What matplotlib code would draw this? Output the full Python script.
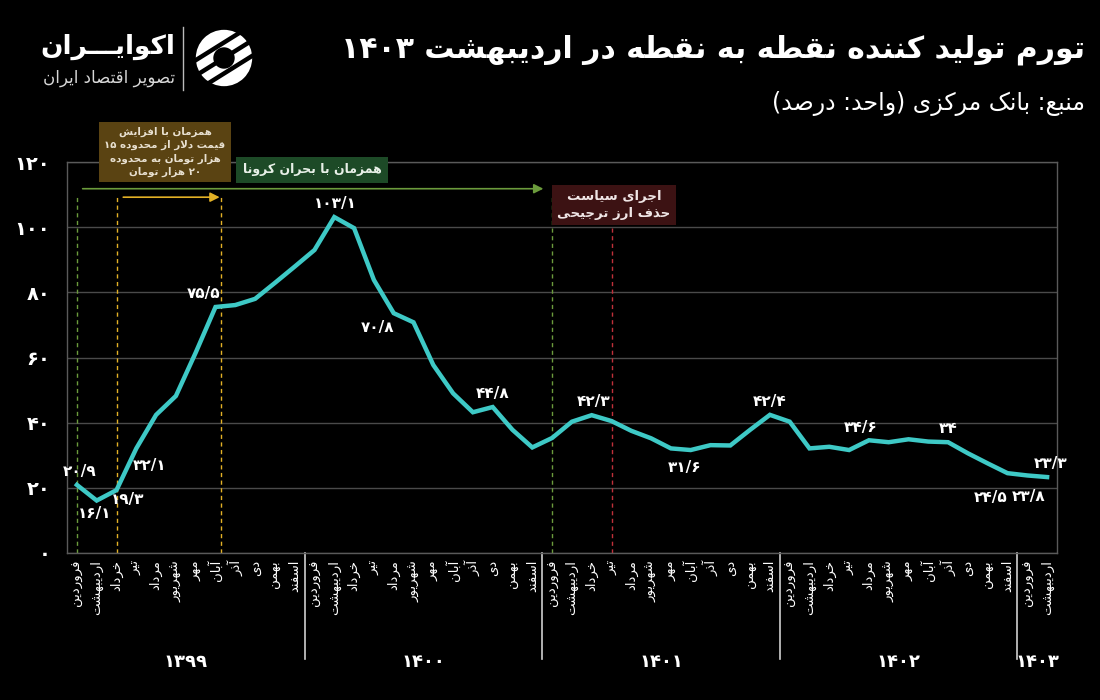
import re
import matplotlib
matplotlib.use("Agg")
import matplotlib.pyplot as plt
import matplotlib.transforms as mtransforms
from matplotlib.patches import Circle

# ---- data ----
months = ["فروردین", "اردیبهشت", "خرداد", "تیر", "مرداد", "شهریور",
          "مهر", "آبان", "آذر", "دی", "بهمن", "اسفند"]
years = ["1399", "1400", "1401", "1402", "1403"]
months_per_year = [12, 12, 12, 12, 2]

ppi = [20.9, 16.1, 19.3, 32.1, 42.4, 48.2, 61.5, 75.5, 76.1, 78.0, 82.9, 87.9,
       93.0, 103.1, 99.7, 83.8, 73.6, 70.8, 57.7, 49.0, 43.2, 44.8, 37.8, 32.4,
       35.3, 40.3, 42.3, 40.5, 37.5, 35.2, 32.1, 31.6, 33.1, 33.0, 37.8, 42.4,
       40.3, 32.1, 32.6, 31.6, 34.6, 34.0, 34.9, 34.2, 34.0, 30.6, 27.5, 24.5,
       23.8, 23.3]

# labelled points and label offsets (pixels, right / down)
label_idx = [0, 1, 2, 3, 7, 13, 17, 21, 26, 31, 35, 40, 44, 47, 48, 49]
label_off = [(3, -13), (-2, 13), (11, 9), (13, 17), (-12, -13), (1, -14), (-36, 5),
             (0, -14), (2, -14), (-6, 17), (0, -13), (-8, -13), (0, -14), (-17, 24),
             (1, 21), (4, -14)]

yticks = [0, 20, 40, 60, 80, 100, 120]

title = "تورم تولید کننده نقطه به نقطه در اردیبهشت ۱۴۰۳"
subtitle = "منبع: بانک مرکزی (واحد: درصد)"
note_dollar = ["همزمان با افزایش", "قیمت دلار از محدوده ۱۵",
               "هزار تومان به محدوده", "۲۰ هزار تومان"]
note_corona = ["همزمان با بحران کرونا"]
note_subsidy = ["اجرای سیاست", "حذف ارز ترجیحی"]

# ---- minimal persian shaping (matplotlib has no complex text layout) ----
FORMS = {
    '\u0622': ('\uFE81', '\uFE82', None, None),
    '\u0627': ('\uFE8D', '\uFE8E', None, None),
    '\u0628': ('\uFE8F', '\uFE90', '\uFE91', '\uFE92'),
    '\u067E': ('\uFB56', '\uFB57', '\uFB58', '\uFB59'),
    '\u062A': ('\uFE95', '\uFE96', '\uFE97', '\uFE98'),
    '\u062B': ('\uFE99', '\uFE9A', '\uFE9B', '\uFE9C'),
    '\u062C': ('\uFE9D', '\uFE9E', '\uFE9F', '\uFEA0'),
    '\u0686': ('\uFB7A', '\uFB7B', '\uFB7C', '\uFB7D'),
    '\u062D': ('\uFEA1', '\uFEA2', '\uFEA3', '\uFEA4'),
    '\u062E': ('\uFEA5', '\uFEA6', '\uFEA7', '\uFEA8'),
    '\u062F': ('\uFEA9', '\uFEAA', None, None),
    '\u0630': ('\uFEAB', '\uFEAC', None, None),
    '\u0631': ('\uFEAD', '\uFEAE', None, None),
    '\u0632': ('\uFEAF', '\uFEB0', None, None),
    '\u0698': ('\uFB8A', '\uFB8B', None, None),
    '\u0633': ('\uFEB1', '\uFEB2', '\uFEB3', '\uFEB4'),
    '\u0634': ('\uFEB5', '\uFEB6', '\uFEB7', '\uFEB8'),
    '\u0635': ('\uFEB9', '\uFEBA', '\uFEBB', '\uFEBC'),
    '\u0636': ('\uFEBD', '\uFEBE', '\uFEBF', '\uFEC0'),
    '\u0637': ('\uFEC1', '\uFEC2', '\uFEC3', '\uFEC4'),
    '\u0638': ('\uFEC5', '\uFEC6', '\uFEC7', '\uFEC8'),
    '\u0639': ('\uFEC9', '\uFECA', '\uFECB', '\uFECC'),
    '\u063A': ('\uFECD', '\uFECE', '\uFECF', '\uFED0'),
    '\u0641': ('\uFED1', '\uFED2', '\uFED3', '\uFED4'),
    '\u0642': ('\uFED5', '\uFED6', '\uFED7', '\uFED8'),
    '\u06A9': ('\uFB8E', '\uFB8F', '\uFB90', '\uFB91'),
    '\u06AF': ('\uFB92', '\uFB93', '\uFB94', '\uFB95'),
    '\u0644': ('\uFEDD', '\uFEDE', '\uFEDF', '\uFEE0'),
    '\u0645': ('\uFEE1', '\uFEE2', '\uFEE3', '\uFEE4'),
    '\u0646': ('\uFEE5', '\uFEE6', '\uFEE7', '\uFEE8'),
    '\u0648': ('\uFEED', '\uFEEE', None, None),
    '\u0647': ('\uFEE9', '\uFEEA', '\uFEEB', '\uFEEC'),
    '\u06CC': ('\uFBFC', '\uFBFD', '\uFBFE', '\uFBFF'),
    '\u0640': ('\u0640', '\u0640', '\u0640', '\u0640'),
}
LAMALEF = {'\u0627': ('\uFEFB', '\uFEFC'), '\u0622': ('\uFEF5', '\uFEF6')}
DIGITS = "0123456789"
FA_DIGITS = "۰۱۲۳۴۵۶۷۸۹"


def fa(s):
    return "".join(FA_DIGITS[DIGITS.index(c)] if c in DIGITS else ('/' if c == '.' else c) for c in s)


def shape_line(text):
    out = []
    i = 0
    n = len(text)
    while i < n:
        c = text[i]
        if c not in FORMS:
            out.append(c)
            i += 1
            continue
        prev = text[i - 1] if i > 0 else ''
        pj = prev in FORMS and FORMS[prev][2] is not None
        if c == '\u0644' and i + 1 < n and text[i + 1] in LAMALEF:
            out.append(LAMALEF[text[i + 1]][1 if pj else 0])
            i += 2
            continue
        nxt = text[i + 1] if i + 1 < n else ''
        f = FORMS[c]
        nj = f[2] is not None and nxt in FORMS
        if pj and nj:
            out.append(f[3])
        elif pj:
            out.append(f[1])
        elif nj:
            out.append(f[2])
        else:
            out.append(f[0])
        i += 1
    s = "".join(out)
    toks = re.findall(r'[0-9\u06F0-\u06F9]+(?:[/.][0-9\u06F0-\u06F9]+)*|.', s, flags=re.S)
    mirror = {'(': ')', ')': '('}
    return "".join(mirror.get(t, t) for t in reversed(toks))


def rtl(text):
    return "\n".join(shape_line(l) for l in text.split("\n"))


# ---- figure ----
BG = "black"
LINE = "#3ec9c6"
GREEN = "#6b9b3c"
ORANGE = "#e3b126"
RED = "#c0303a"
FONT = "DejaVu Sans"

plt.rcParams['font.family'] = FONT

fig = plt.figure(figsize=(11, 7), dpi=100, facecolor=BG)
W, H = 1100.0, 700.0
ax = fig.add_axes([67 / W, 1 - 553 / H, 990 / W, 391 / H])
ax.set_facecolor(BG)

x = list(range(len(ppi)))
ax.plot(x, ppi, color=LINE, lw=3.2, solid_joinstyle="miter", zorder=5)

ax.set_xlim(-0.5, len(ppi) - 0.5)
ax.set_ylim(0, 120)
ax.set_yticks(yticks)
ax.set_yticklabels([fa(str(v)) for v in yticks], color="white", fontsize=14, fontweight="bold")
ax.grid(axis="y", color="#4a4a4a", lw=1)
ax.set_axisbelow(True)
for s in ax.spines.values():
    s.set_color("#5a5a5a")
    s.set_linewidth(1)

month_labels = []
for n in months_per_year:
    month_labels += months[:n]
ax.set_xticks(x)
ax.set_xticklabels([rtl(m) for m in month_labels], rotation=90, color="white",
                   fontsize=9.5, va="top", ha="center")
ax.tick_params(axis="x", length=0, pad=5)
ax.tick_params(axis="y", length=0, pad=12)

# year groups below the month names
trans = mtransforms.blended_transform_factory(ax.transData, ax.transAxes)
start = 0
for yr, n in zip(years, months_per_year):
    ax.text(start + (n - 1) / 2, -0.28, fa(yr), transform=trans, color="white",
            fontsize=13, fontweight="bold", ha="center", va="center")
    start += n
    if start < len(ppi):
        ax.plot([start - 0.5, start - 0.5], [0, -0.27], transform=trans,
                color="#cfcfcf", lw=1.2, clip_on=False)

# value labels
for i, (dx, dy) in zip(label_idx, label_off):
    v = ppi[i]
    txt = fa(("%.1f" % v).rstrip("0").rstrip("."))
    ax.annotate(txt, (i, v), xytext=(dx * 0.72, -dy * 0.72), textcoords="offset points",
                color="white", fontsize=11, fontweight="bold", ha="center", va="center",
                zorder=6)

# event markers
for xv, top, col in [(0, 109.4, GREEN), (2, 109.4, ORANGE), (7.3, 109.4, ORANGE),
                     (24, 109.4, GREEN), (27, 99.8, RED)]:
    ax.plot([xv, xv], [0, top], color=col, lw=1, ls=(0, (3, 2.5)), zorder=2)

ax.annotate("", xy=(23.7, 111.8), xytext=(0.15, 111.8),
            arrowprops=dict(arrowstyle="-|>", color=GREEN, lw=1.2, mutation_scale=14))
ax.annotate("", xy=(7.35, 109.2), xytext=(2.2, 109.2),
            arrowprops=dict(arrowstyle="-|>", color=ORANGE, lw=1.2, mutation_scale=14))

# note boxes
fig.text(165 / W, 1 - 152 / H, rtl("\n".join(note_dollar)), color="#e8e0d0", fontsize=7.4,
         fontweight="bold", ha="center", va="center", linespacing=1.4,
         bbox=dict(boxstyle="square,pad=0.5", fc="#5a4312", ec="none"))
fig.text(312 / W, 1 - 170 / H, rtl(note_corona[0]), color="#e8f0e8", fontsize=9,
         fontweight="bold", ha="center", va="center",
         bbox=dict(boxstyle="square,pad=0.55", fc="#1d4a27", ec="none"))
fig.text(614 / W, 1 - 205 / H, rtl("\n".join(note_subsidy)), color="#f0e6e6", fontsize=9.5,
         fontweight="bold", ha="center", va="center", linespacing=1.4,
         bbox=dict(boxstyle="square,pad=0.4", fc="#3c1213", ec="none"))

# titles
fig.text(1085 / W, 1 - 50 / H, rtl(title), color="white", fontsize=21.5, fontweight="bold",
         ha="right", va="center")
fig.text(1085 / W, 1 - 103 / H, rtl(subtitle), color="white", fontsize=17,
         ha="right", va="center")

# logo
fig.text(175 / W, 1 - 47 / H, rtl("اکوایـــران"), color="white", fontsize=19,
         fontweight="bold", ha="right", va="center")
fig.text(175 / W, 1 - 78 / H, rtl("تصویر اقتصاد ایران"), color="#d8d8d8", fontsize=12,
         ha="right", va="center")
fig.add_artist(plt.Line2D([183 / W, 183 / W], [1 - 90 / H, 1 - 27 / H], color="#bbbbbb", lw=1))
lax = fig.add_axes([193 / W, 1 - 90 / H, 62 / W, 64 / H])
lax.set_xlim(-1.1, 1.1)
lax.set_ylim(-1.1, 1.1)
lax.set_aspect("equal")
lax.axis("off")
lax.add_patch(Circle((0, 0), 1.0, fc="white", ec="none"))
for c in [-0.55, 0.0, 0.55]:
    lax.plot([-1.2, 1.2], [c - 0.75, c + 0.75], color=BG, lw=3.2)
lax.add_patch(Circle((0, 0), 0.38, fc=BG, ec="none"))

fig.savefig("out.png", dpi=100, facecolor=BG)
